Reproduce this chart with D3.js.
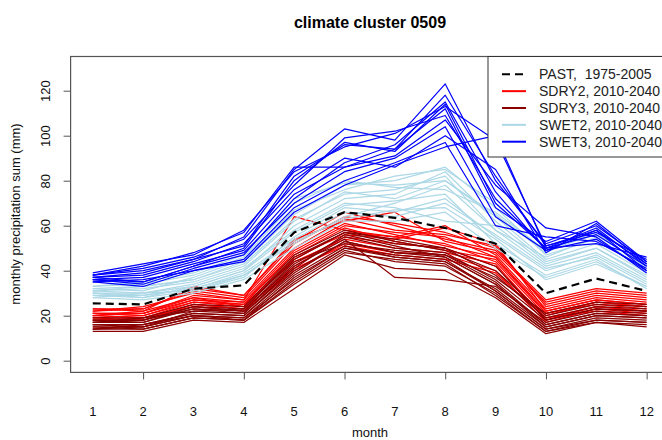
<!DOCTYPE html>
<html><head><meta charset="utf-8">
<script src="https://cdn.jsdelivr.net/npm/d3@7"></script>
<style>body{margin:0;background:#fff}svg{display:block}text{font-family:"Liberation Sans",Arial,sans-serif;white-space:pre}</style>
</head><body><svg id="c" width="662" height="440"></svg>
<script>
const months = [1,2,3,4,5,6,7,8,9,10,11,12];
const yTicks = [0,20,40,60,80,100,120];
const past = [25.5,25,32,33.5,57,66,63.5,59,52,30,36.5,31];
const sdry2 = [
 [21,20,27,25,48,60,57,55,46,22,27,25],
 [19,18,25,23,42,55,52,50,42,19,24,22],
 [22,23,31,28,52,64,61,57,50,25,30,28],
 [20,19,26,24,45,57,55,52,44,20,26,24],
 [23,22,33,29,54,62,66,53,48,26,31,29],
 [18,19,24,22,40,52,48,47,40,17,23,21],
 [21,21,29,27,64,58,55,60,47,23,28,26],
 [20,22,28,26,47,59,53,49,45,21,25,23],
 [22,24,30,27,50,63,58,56,51,24,29,27],
 [19,20,26,25,44,54,50,48,43,18,24,22],
 [21,21,28,24,46,56,54,59,52,22,27,25],
 [23,23,32,29,53,66,60,54,49,27,32,30],
 [18,18,25,23,41,51,47,45,39,19,22,20],
 [20,21,27,26,49,61,56,51,46,21,26,24]
];
const sdry3 = [
 [16,16,21,20,40,53,48,47,35,16,21,20],
 [14,14,19,18,35,49,44,42,30,13,18,17],
 [18,18,24,23,45,57,52,50,38,19,24,23],
 [15,15,20,19,38,51,46,44,32,15,20,19],
 [17,17,23,22,43,55,50,48,36,18,23,22],
 [13,13,18,17,32,47,41,40,28,12,17,15],
 [16,15,22,21,42,54,37,36,33,17,22,21],
 [19,19,25,24,47,58,53,49,40,20,25,24],
 [14,16,20,19,36,50,47,45,31,14,19,18],
 [17,18,23,21,41,56,51,46,34,16,21,20],
 [15,14,19,18,34,48,45,43,29,13,17,16],
 [18,17,24,22,44,52,49,47,37,21,26,25],
 [16,16,21,20,39,53,48,46,34,15,20,19],
 [14,15,20,18,37,50,46,44,31,14,18,17],
 [17,19,22,23,46,57,54,50,42,18,23,22]
];
const swet2 = [
 [31,30,33,40,60,72,74,84,62,44,50,38],
 [29,28,31,37,55,68,66,72,55,40,47,35],
 [32,33,36,44,65,78,80,86,68,47,54,40],
 [30,29,32,38,52,64,70,78,58,42,48,36],
 [33,34,38,46,70,80,77,76,66,49,56,42],
 [28,27,30,36,50,62,62,66,50,37,44,33],
 [31,32,35,42,62,75,72,80,64,45,52,39],
 [30,30,34,41,58,70,68,62,60,43,50,37],
 [32,31,37,45,67,76,82,85,70,50,57,41],
 [29,29,32,39,54,66,64,70,56,41,46,34],
 [31,33,36,43,63,74,76,82,58,46,55,40],
 [30,28,33,40,57,69,71,74,52,38,45,32],
 [33,35,39,47,72,79,78,80,65,48,58,43],
 [28,30,31,38,53,63,67,68,54,36,43,33]
];
const swet3 = [
 [37,35,42,50,80,97,93,114,70,50,56,42],
 [38,40,45,55,85,103,98,123,80,52,60,44],
 [36,34,41,47,72,88,96,115,75,49,58,40],
 [39,43,47,58,84,95,101,113,98,51,57,45],
 [35,36,40,45,68,80,88,97,60,55,53,41],
 [37,38,44,52,76,90,86,100,85,48,61,43],
 [36,37,43,49,74,86,91,107,78,59,55,39],
 [38,41,46,54,78,99,102,109,72,50,59,42],
 [35,33,40,44,66,78,87,95,100,50,52,46],
 [37,39,45,51,82,96,94,112,68,53,62,44],
 [36,35,42,48,70,84,90,104,64,49,54,40],
 [38,42,48,57,86,86,94,118,82,51,58,43]
];
const legendLabels = ["PAST,  1975-2005","SDRY2, 2010-2040","SDRY3, 2010-2040","SWET2, 2010-2040","SWET3, 2010-2040"];
const legendColors = ["#000000","#ff0000","#8b0000","#add8e6","#0000ff"];

const svg = d3.select("#c");
const x = d3.scaleLinear().domain([0.56,12.44]).range([70.6,668.8]);
const y = d3.scaleLinear().domain([-5.2,135.2]).range([372.4,56.5]);
const line = d3.line().x((d,i)=>x(months[i])).y(d=>y(d));

svg.append("clipPath").attr("id","pc").append("rect")
  .attr("x",x.range()[0]).attr("y",y.range()[1]).attr("width",x.range()[1]-x.range()[0]).attr("height",y.range()[0]-y.range()[1]);
const g = svg.append("g").attr("clip-path","url(#pc)");
function drawGroup(arr,col){
  g.selectAll(null).data(arr).enter().append("path")
    .attr("d",line).attr("fill","none").attr("stroke",col).attr("stroke-width",1.2)
    .attr("stroke-linejoin","round");
}
drawGroup(sdry2,legendColors[1]);
drawGroup(sdry3,legendColors[2]);
drawGroup(swet2,legendColors[3]);
drawGroup(swet3,legendColors[4]);
g.append("path").attr("d",line(past)).attr("fill","none").attr("stroke","#000").attr("stroke-width",2.2).attr("stroke-dasharray","8,5");

// frame
svg.append("rect").attr("x",x.range()[0]).attr("y",y.range()[1]).attr("width",x.range()[1]-x.range()[0]).attr("height",y.range()[0]-y.range()[1])
  .attr("fill","none").attr("stroke","#555").attr("stroke-width",1.2);

// y axis
const ya = svg.append("g").attr("transform",`translate(${x.range()[0]},0)`)
  .call(d3.axisLeft(y).tickValues(yTicks).tickSize(7).tickSizeOuter(0).tickFormat(d3.format("d")));
ya.select(".domain").remove();
ya.selectAll(".tick line").attr("stroke","#555");
ya.selectAll(".tick text").attr("font-size",13).attr("fill","#111")
  .each(function(d){d3.select(this).attr("x",0).attr("text-anchor","middle")
     .attr("transform",`translate(${45-70.6},0) rotate(-90)`).attr("dy","0.35em");});

// x axis: ticks on even months, labels for all
const xa = svg.append("g").attr("transform",`translate(0,${y.range()[0]})`)
  .call(d3.axisBottom(x).tickValues(months.filter(m=>m%2===0)).tickSize(7).tickFormat(""));
xa.select(".domain").remove();
xa.selectAll(".tick line").attr("stroke","#555");
svg.append("g").selectAll("text").data(months).enter().append("text")
  .attr("x",d=>x(d)).attr("y",416).attr("text-anchor","middle").attr("font-size",13).attr("fill","#111").text(d=>d);

// titles
svg.append("text").attr("x",370).attr("y",28).attr("text-anchor","middle").attr("font-size",16).attr("font-weight","bold").text("climate cluster 0509");
svg.append("text").attr("x",370).attr("y",437).attr("text-anchor","middle").attr("font-size",13).attr("fill","#111").text("month");
svg.append("text").attr("transform","translate(20,214) rotate(-90)").attr("text-anchor","middle").attr("font-size",13).attr("fill","#111").text("monthly precipitation sum (mm)");

// legend
const lg = svg.append("g");
lg.append("rect").attr("x",488).attr("y",56.5).attr("width",200).attr("height",100.5).attr("fill","#fff").attr("stroke","#333").attr("stroke-width",1);
const rows = lg.selectAll("g.r").data(legendLabels).enter().append("g").attr("transform",(d,i)=>`translate(0,${74.3+i*16.85})`);
rows.append("line").attr("x1",502).attr("x2",526).attr("y1",0).attr("y2",0)
  .attr("stroke",(d,i)=>legendColors[i]).attr("stroke-width",2).attr("stroke-dasharray",(d,i)=>i===0?"8,5":null);
rows.append("text").attr("x",539).attr("y",0).attr("dy","0.35em").attr("font-size",14).attr("fill","#222").text(d=>d);
</script></body></html>
